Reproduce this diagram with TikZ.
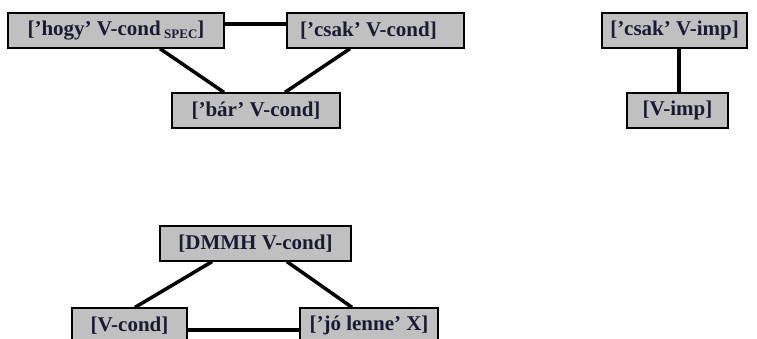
\documentclass[tikz,border=0pt]{standalone}
\usepackage{fontspec}
\setmainfont{Liberation Serif}
\definecolor{boxgray}{HTML}{C0C0C0}
\definecolor{inkblue}{HTML}{1A1A33}
\begin{document}
\begin{tikzpicture}[x=1pt,y=-1pt,
  cat/.style={draw=black, line width=1.3pt, fill=boxgray, minimum height=35pt,
    inner sep=0pt, text=inkblue, font=\fontsize{21}{21}\selectfont\bfseries},
  link/.style={line width=3.5pt, black}]
\useasboundingbox (0,0) rectangle (757,338);
\clip (0,0) rectangle (757,338);
\fill[white] (0,0) rectangle (757,338);

% conditional cluster, top left
\node[cat, minimum width=216pt] (hogy)  at (116,30.5) {[’hogy’ V-cond\,\raisebox{-3pt}{\fontsize{13}{13}\selectfont SPEC}]};
\node[cat, minimum width=177pt] (csakc) at (375.5,30.5) {[’csak’ V-cond]\hspace*{14pt}};
\node[cat, minimum width=168pt] (bar)   at (256,110.5) {[’bár’ V-cond]};

% imperative pair, top right
\node[cat, minimum width=145pt] (csaki) at (674.5,30.5) {[’csak’ V-imp]};
\node[cat, minimum width=101pt] (vimp)  at (677.5,110.5) {[V-imp]};

% DMMH cluster, bottom
\node[cat, minimum width=191pt] (dmmh)  at (255.5,243.5) {[DMMH V-cond]};
\node[cat, minimum width=115pt] (vcond) at (129.5,325.5) {[V-cond]};
\node[cat, minimum width=138pt] (jo)    at (369,325.5) {[’jó lenne’ X]};

\draw[link] ([yshift=6.5pt]hogy.east) -- ([yshift=6.5pt]csakc.west);
\draw[link] ([xshift=44pt]hogy.south) -- ([xshift=-32pt]bar.north);
\draw[link] ([xshift=-25.5pt]csakc.south) -- ([xshift=29pt]bar.north);

\draw[link] ([xshift=4.5pt]csaki.south) -- ([xshift=1.5pt]vimp.north);

\draw[link] ([xshift=-43.5pt]dmmh.south) -- ([xshift=5.5pt]vcond.north);
\draw[link] ([xshift=31.5pt]dmmh.south) -- ([xshift=-17pt]jo.north);
\draw[link] ([yshift=-4.5pt]vcond.east) -- ([yshift=-4.5pt]jo.west);
\end{tikzpicture}
\end{document}
